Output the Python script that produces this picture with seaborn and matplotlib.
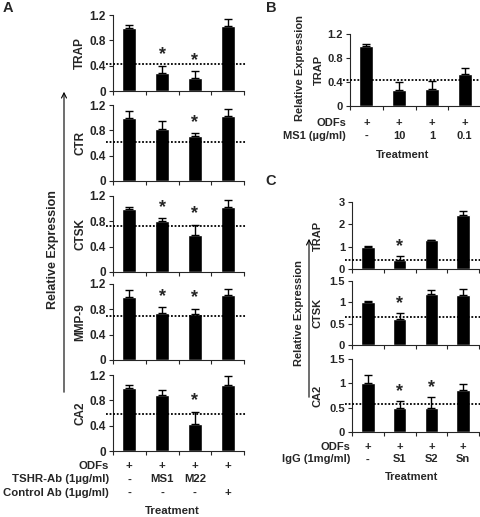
import numpy as np
import pandas as pd
import seaborn as sns
import matplotlib.pyplot as plt
from matplotlib.patches import FancyArrowPatch
from matplotlib.transforms import blended_transform_factory

# ---- data ----
# panel A: ODFs, MS1, M22, control Ab
genes_a = ["TRAP", "CTR", "CTSK", "MMP-9", "CA2"]
mean_a = [[1.00, 0.29, 0.20, 1.02],
          [1.00, 0.82, 0.71, 1.03],
          [1.00, 0.80, 0.58, 1.03],
          [1.00, 0.75, 0.73, 1.03],
          [0.99, 0.88, 0.43, 1.04]]
err_a = [[0.04, 0.11, 0.11, 0.12],
         [0.10, 0.12, 0.05, 0.11],
         [0.03, 0.05, 0.17, 0.11],
         [0.10, 0.09, 0.08, 0.09],
         [0.05, 0.08, 0.19, 0.14]]
ref_a = [0.43, 0.61, 0.73, 0.70, 0.58]
star_a = [[1, 2], [2], [1, 2], [1, 2], [2]]
rows_a = [("ODFs", ["+", "+", "+", "+"]),
          ("TSHR-Ab (1µg/ml)", ["-", "MS1", "M22", ""]),
          ("Control Ab (1µg/ml)", ["-", "-", "-", "+"])]

# panel B: MS1 dose
mean_b = [1.00, 0.26, 0.29, 0.53]
err_b = [0.04, 0.14, 0.12, 0.11]
ref_b = 0.44
rows_b = [("ODFs", ["+", "+", "+", "+"]),
          ("MS1 (µg/ml)", ["-", "10", "1", "0.1"])]

# panel C: patient IgG
genes_c = ["TRAP", "CTSK", "CA2"]
mean_c = [[0.98, 0.40, 1.30, 2.42],
          [1.00, 0.62, 1.19, 1.17],
          [1.00, 0.49, 0.49, 0.86]]
err_c = [[0.06, 0.17, 0.02, 0.17],
         [0.04, 0.14, 0.09, 0.14],
         [0.17, 0.14, 0.22, 0.13]]
ref_c = [0.42, 0.65, 0.58]
star_c = [[1], [1], [1, 2]]
ylim_c = [3, 1.5, 1.5]
yticks_c = [[0, 1, 2, 3], [0, 0.5, 1, 1.5], [0, 0.5, 1, 1.5]]
rows_c = [("ODFs", ["+", "+", "+", "+"]),
          ("IgG (1mg/ml)", ["-", "S1", "S2", "Sn"])]

W, H = 481, 517

sns.set_style("ticks")
plt.rcParams["font.family"] = ["Liberation Sans", "DejaVu Sans"]
plt.rcParams["font.weight"] = "bold"
plt.rcParams["axes.linewidth"] = 0.8

fig = plt.figure(figsize=(W / 100, H / 100), dpi=100)


def add_ax(left, top, right, bottom):
    return fig.add_axes([left / W, 1 - bottom / H, (right - left) / W, (bottom - top) / H])


def fy(y):
    return 1 - y / H


def bar_panel(ax, vals, errs, ref, stars, ymax, yticks, label, label_x, fs=8):
    cats = ["c%d" % i for i in range(len(vals))]
    df = pd.DataFrame({"cat": cats, "val": vals})
    sns.barplot(data=df, x="cat", y="val", color="black", saturation=1,
                width=0.43, errorbar=None, ax=ax)
    ax.errorbar(range(len(vals)), vals, yerr=[np.zeros(len(errs)), errs],
                fmt="none", ecolor="black", elinewidth=1, capsize=3, capthick=1)
    ax.plot([-0.72, 3.55], [ref, ref], ls=(0, (1, 1)), color="black", lw=1.3,
            clip_on=False, zorder=5)
    for i in stars:
        ax.text(i, vals[i] + errs[i] + 0.14 * ymax, "*", ha="center", va="center",
                fontsize=13, fontweight="bold")
    ax.set_xlim(-0.5, 3.5)
    ax.set_ylim(0, ymax)
    ax.set_yticks(yticks)
    ax.set_yticklabels(["%g" % t for t in yticks], fontsize=fs, fontweight="bold")
    ax.set_xticks([-0.5, 0.5, 1.5, 2.5, 3.5])
    ax.set_xticklabels([])
    ax.tick_params(length=3, width=0.8, pad=2)
    ax.set_xlabel("")
    ax.set_ylabel(label, fontsize=fs, fontweight="bold")
    ax.yaxis.set_label_coords(label_x, 0.5)
    sns.despine(ax=ax)


def treatment_rows(ax, rows, y0, dy, right_x, treat_x, treat_y, fs=8):
    tr = blended_transform_factory(ax.transData, fig.transFigure)
    for k, (name, marks) in enumerate(rows):
        y = fy(y0 + k * dy)
        fig.text(right_x / W, y, name, ha="right", va="center", fontsize=fs,
                 fontweight="bold")
        for i, m in enumerate(marks):
            ax.text(i, y, m, ha="center", va="center", fontsize=fs,
                    fontweight="bold", transform=tr)
    fig.text(treat_x / W, fy(treat_y), "Treatment", ha="center", va="center",
             fontsize=fs, fontweight="bold")


# ---- panel A ----
tops_a = [15, 105, 196, 284, 375]
axes_a = []
for g, top in enumerate(tops_a):
    ax = add_ax(113, top, 244, top + 76)
    bar_panel(ax, mean_a[g], err_a[g], ref_a[g], star_a[g], 1.2,
              [0, 0.4, 0.8, 1.2], genes_a[g], -0.205, fs=8.5)
    axes_a.append(ax)
treatment_rows(axes_a[-1], rows_a, 466, 13.5, 109, 172, 511, fs=8.2)

fig.add_artist(FancyArrowPatch((64 / W, fy(395)), (64 / W, fy(89)),
                               transform=fig.transFigure, arrowstyle="->",
                               mutation_scale=9, lw=0.8, color="black"))
fig.text(53 / W, fy(250), "Relative Expression", rotation=90, ha="center",
         va="center", fontsize=9, fontweight="bold")
fig.text(8 / W, fy(8), "A", ha="center", va="center", fontsize=10.5, fontweight="bold")

# ---- panel B ----
ax_b = add_ax(350, 34, 481, 106)
bar_panel(ax_b, mean_b, err_b, ref_b, [], 1.2, [0, 0.4, 0.8, 1.2], "TRAP", -0.2)
treatment_rows(ax_b, rows_b, 123, 13, 346, 403, 155)
fig.text(300 / W, fy(68), "Relative Expression", rotation=90, ha="center",
         va="center", fontsize=8, fontweight="bold")
fig.text(271 / W, fy(8), "B", ha="center", va="center", fontsize=10.5, fontweight="bold")

# ---- panel C ----
tops_c = [(202, 269), (281, 345), (359, 432)]
axes_c = []
for g, (t, b) in enumerate(tops_c):
    ax = add_ax(352, t, 479, b)
    bar_panel(ax, mean_c[g], err_c[g], ref_c[g], star_c[g], ylim_c[g],
              yticks_c[g], genes_c[g], -0.23)
    axes_c.append(ax)
treatment_rows(axes_c[-1], rows_c, 447, 12.5, 350, 412, 477)

fig.add_artist(FancyArrowPatch((309 / W, fy(400)), (309 / W, fy(236)),
                               transform=fig.transFigure, arrowstyle="->",
                               mutation_scale=9, lw=0.8, color="black"))
fig.text(299 / W, fy(313), "Relative Expression", rotation=90, ha="center",
         va="center", fontsize=8, fontweight="bold")
fig.text(271 / W, fy(181), "C", ha="center", va="center", fontsize=10.5, fontweight="bold")

fig.savefig("out.png", dpi=100, facecolor="white")
